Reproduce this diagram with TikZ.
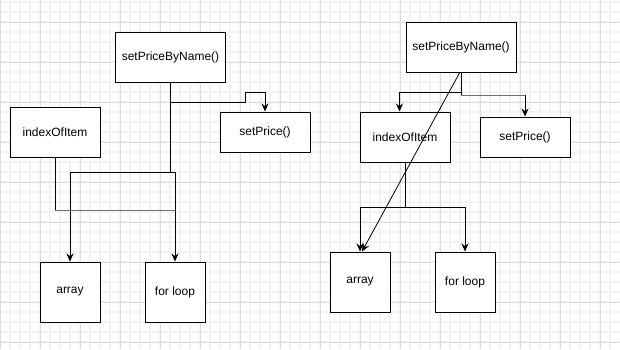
\documentclass[tikz,border=0pt]{standalone}
\usepackage[dvipsnames,svgnames]{xcolor}
\usepackage{fontspec}
\setmainfont{Liberation Sans}
\usetikzlibrary{arrows.meta}

\definecolor{gridminor}{HTML}{F3F3F3}
\definecolor{gridmajor}{HTML}{DCDCDC}
\definecolor{joinline}{HTML}{707070}

\begin{document}
\begin{tikzpicture}[x=1pt,y=-1pt,
    box/.style={draw=black,fill=white,line width=1pt,inner sep=0pt,
        font=\fontsize{12}{14}\selectfont},
    link/.style={line width=1pt,-{Stealth[length=8pt,width=7pt]}},
    wire/.style={line width=1pt},
    minorgrid/.style={gridminor,line width=1.5pt},
    majorgrid/.style={gridmajor,line width=1pt}]
    \useasboundingbox (0,0) rectangle (620,349);
    \fill[white] (0,0) rectangle (620,349);
    % background grid
    \foreach \x in {10,20,...,610} \draw[minorgrid] (\x,0) -- (\x,349);
    \foreach \y in {2,12,...,342} \draw[minorgrid] (0,\y) -- (620,\y);
    \foreach \x in {0,40,...,600} \draw[majorgrid] (\x,0) -- (\x,349);
    \foreach \y in {22,62,...,342} \draw[majorgrid] (0,\y) -- (620,\y);

    % first version
    \node[box,minimum width=110pt,minimum height=50pt] (lname) at (170.5,57) {setPriceByName()};
    \node[box,minimum width=90pt,minimum height=50pt]  (lidx)  at (55,132)   {indexOfItem};
    \node[box,minimum width=90pt,minimum height=40pt]  (lset)  at (265,132)  {setPrice()};
    \node[box,minimum width=60pt,minimum height=60pt]  (larr)  at (70,292)   {array};
    \node[box,minimum width=60pt,minimum height=60pt]  (lfor)  at (175,292)  {for loop};
    \coordinate (lsplit) at (170.5,102);
    \coordinate (lstep)  at (245,92);
    \coordinate (ldrop)  at (170.5,172);
    \coordinate (lbarL)  at (70,172);
    \coordinate (lbarR)  at (175,172);
    \coordinate (lbend)  at (55,210);
    \coordinate (ljoin)  at (175,210);
    \draw[wire] (lname.south) -- (ldrop);
    \draw[link] (lsplit) -| (lstep) -| (lset.north);
    \draw[wire] (lbarL) -- (lbarR);
    \draw[link] (lbarL) -- (larr.north);
    \draw[link] (lbarR) -- (lfor.north);
    \draw[wire] (lidx.south) -- (lbend);
    \draw[wire,joinline] (lbend) -- (ljoin);

    % second version
    \node[box,minimum width=110pt,minimum height=50pt] (rname) at (461,47)  {setPriceByName()};
    \node[box,minimum width=90pt,minimum height=50pt]  (ridx)  at (405,137) {indexOfItem};
    \node[box,minimum width=90pt,minimum height=40pt]  (rset)  at (525,137) {setPrice()};
    \node[box,minimum width=60pt,minimum height=60pt]  (rarr)  at (360,282) {array};
    \node[box,minimum width=60pt,minimum height=60pt]  (rfor)  at (465,282) {for loop};
    \coordinate (rleft)  at (399.5,92);
    \coordinate (rright) at (461,95);
    \coordinate (rturn)  at (525,95);
    \coordinate (rbar)   at (405,207);
    \draw[link] (rname.south) |- (rleft) -- (ridx.north -| rleft);
    \draw[wire] (rname.south) -- (rright);
    \draw[wire,joinline] (rright) -- (rturn);
    \draw[link] (rturn) -- (rset.north);
    \draw[link,line width=0.8pt] (460,72) -- ([xshift=2pt]rarr.north);
    \draw[wire] (ridx.south) -- (rbar);
    \draw[link] (rbar) -| (rarr.north);
    \draw[link] (rbar) -| (rfor.north);
\end{tikzpicture}
\end{document}
